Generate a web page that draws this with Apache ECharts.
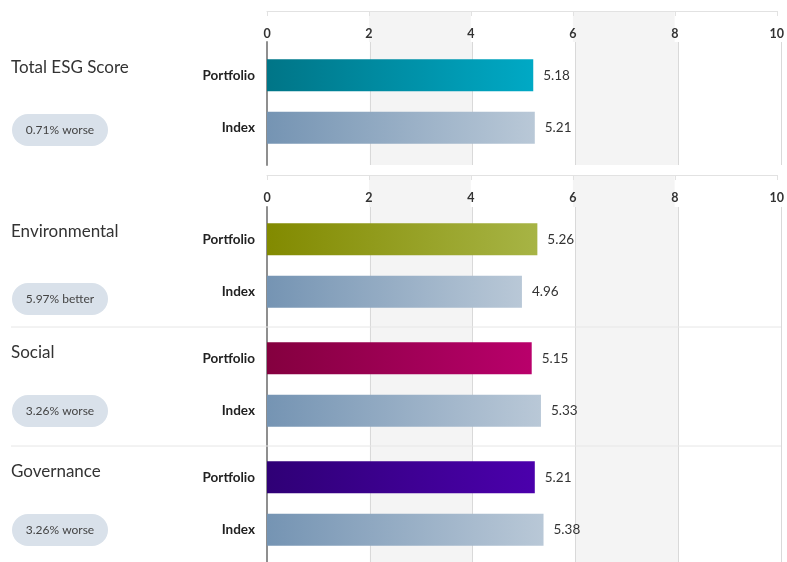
<!DOCTYPE html>
<html>
<head>
<meta charset="utf-8">
<script src="https://cdn.jsdelivr.net/npm/echarts@6/dist/echarts.min.js"></script>
<style>
html,body{margin:0;padding:0;background:#fff;}
#chart{width:787px;height:562px;}
</style>
</head>
<body>
<div id="chart"></div>
<script>
var groups = ['Total ESG Score', 'Environmental', 'Social', 'Governance'];
var rowLabels = ['Portfolio', 'Index'];
var portfolio = [5.18, 5.26, 5.15, 5.21];
var index = [5.21, 4.96, 5.33, 5.38];
var badges = ['0.71% worse', '5.97% better', '3.26% worse', '3.26% worse'];

// colours of the portfolio bar in each group (dark -> light)
var portColors = [['#007587', '#00a9c5'], ['#828a00', '#a7b445'], ['#84003f', '#b9006b'], ['#2f0076', '#4b00ac']];
var indexColor = ['#7594b3', '#b9c8d7'];

// layout
var barTops = [49, 213, 332, 451];
var titleY = [68, 232, 353, 472];
var badgeY = [130, 299, 411, 530];
var sepY = [327, 446];
var font = 'Lato';

function grad(c) {
    return new echarts.graphic.LinearGradient(0, 0, 1, 0, [
        {offset: 0, color: c[0]}, {offset: 1, color: c[1]}
    ]);
}

var myChart = echarts.init(document.getElementById('chart'));

var grid = [], xAxis = [], yAxis = [], series = [], graphic = [];
var bands = {show: true, areaStyle: {color: ['#ffffff', '#f4f4f4']}};

// header and body grids for the two panels
[[11, 31, 42, 397], [175, 32, 207, 0]].forEach(function (p) {
    var h = grid.length;
    grid.push({left: 267, right: 6, top: p[0], height: p[1]});
    xAxis.push({
        gridIndex: h, type: 'value', min: 0, max: 10, interval: 2, position: 'top',
        axisLine: {show: true, onZero: false, lineStyle: {color: '#e2e2e2'}},
        axisTick: {show: true, inside: true, length: 5, lineStyle: {color: '#e2e2e2'}},
        axisLabel: {inside: true, margin: 16, fontWeight: 'bold', fontSize: 12.5, color: '#333', fontFamily: font},
        splitLine: {show: false},
        splitArea: bands
    });
    yAxis.push({gridIndex: h, type: 'value', show: false});

    grid.push({left: 267, right: 6, top: p[2], bottom: p[3]});
    xAxis.push({
        gridIndex: h + 1, type: 'value', min: 0, max: 10, interval: 2,
        axisLine: {show: false}, axisTick: {show: false}, axisLabel: {show: false},
        splitLine: {show: true, lineStyle: {color: '#d9d9d9'}},
        splitArea: bands
    });
    yAxis.push({
        gridIndex: h + 1, type: 'value', min: 0, max: 1,
        axisLine: {show: true, lineStyle: {color: '#8f8f8f', width: 2}},
        axisTick: {show: false}, axisLabel: {show: false}, splitLine: {show: false}
    });
});

// one bar grid per group
groups.forEach(function (name, i) {
    var g = grid.length;
    grid.push({left: 267, right: 6, top: barTops[i], height: 105});
    xAxis.push({gridIndex: g, type: 'value', min: 0, max: 10, show: false});
    yAxis.push({
        gridIndex: g, type: 'category', inverse: true, data: rowLabels,
        axisLine: {show: false}, axisTick: {show: false},
        axisLabel: {margin: 12, fontWeight: 'bold', fontSize: 13.5, color: '#222', fontFamily: font, padding: [8, 0, 0, 0]}
    });
    series.push({
        type: 'bar', xAxisIndex: g, yAxisIndex: g, barWidth: 32, silent: true,
        data: [
            {value: portfolio[i], itemStyle: {color: grad(portColors[i])}},
            {value: index[i], itemStyle: {color: grad(indexColor)}}
        ],
        label: {
            show: true, position: 'right', distance: 10, fontSize: 13.5, color: '#333', fontFamily: font,
            formatter: function (p) { return p.value.toFixed(2); }
        }
    });

    graphic.push({
        type: 'text', x: 11, y: titleY[i],
        style: {text: name, fontSize: 17, fontFamily: font, fill: '#333', verticalAlign: 'middle'}
    });
    graphic.push({
        type: 'group', x: 12, y: badgeY[i] - 16,
        children: [
            {type: 'rect', shape: {x: 0, y: 0, width: 96, height: 32, r: 16}, style: {fill: '#d9e1ea'}},
            {type: 'text', x: 48, y: 16, style: {text: badges[i], fontSize: 12, fontFamily: font, fill: '#444', align: 'center', verticalAlign: 'middle'}}
        ]
    });
});

sepY.forEach(function (y) {
    graphic.push({type: 'line', shape: {x1: 11, y1: y, x2: 781, y2: y}, style: {stroke: '#e6e6e6', lineWidth: 1}, z: 10});
});

option = {
    animation: false,
    grid: grid,
    xAxis: xAxis,
    yAxis: yAxis,
    series: series,
    graphic: graphic
};
myChart.setOption(option);
</script>
</body>
</html>
